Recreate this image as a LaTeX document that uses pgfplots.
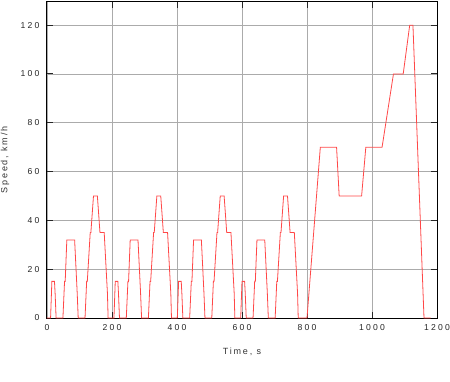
\documentclass[border=0pt]{standalone}
\usepackage{fontspec}
\setmainfont{Liberation Sans}[LetterSpace=20]
\newfontfamily\tickfont{Liberation Sans}[LetterSpace=26]
\usepackage{pgfplots}
\pgfplotsset{compat=1.18}
\definecolor{cyc}{HTML}{FF4848}
\begin{document}
\begin{tikzpicture}
\begin{axis}[
  scale only axis, width=390pt, height=316pt,
  xmin=0, xmax=1200, ymin=0, ymax=129.5,
  xtick={0,200,...,1200}, ytick={0,20,...,120},
  grid=major, major grid style={color=black!33, line width=0.9pt},
  tick align=inside, major tick length=6pt,
  tick style={black!85, line width=1pt},
  axis line style={black, line width=1pt},
  /pgf/number format/assume math mode=true,
  /pgf/number format/1000 sep={},
  ticklabel style={font=\tickfont\fontsize{8.6}{10}\selectfont, text=black!85},
  xticklabel style={yshift=-3pt},
  yticklabel style={xshift=-4pt},
  label style={font=\fontsize{9}{11}\selectfont, text=black!80},
  xlabel={Time, s}, ylabel={Speed, km/h},
  xlabel style={at={(axis description cs:0.5,-0.1076)}, anchor=center},
  ylabel style={at={(axis description cs:-0.1077,0.5)}, anchor=center},
]
\addplot[cyc, line width=0.8pt] coordinates {
(0,0)(11,0)(15,15)(23,15)(25,10)(28,0)(49,0)(54,15)(56,15)(61,32)(85,32)(93,10)(96,0)
(117,0)(122,15)(124,15)(133,35)(135,35)(143,50)(155,50)(163,35)(176,35)(186,10)(188,0)(195,0)
(206,0)(210,15)(218,15)(220,10)(223,0)(244,0)(249,15)(251,15)(256,32)(280,32)(288,10)(291,0)
(312,0)(317,15)(319,15)(328,35)(330,35)(338,50)(350,50)(358,35)(371,35)(381,10)(383,0)(390,0)
(401,0)(405,15)(413,15)(415,10)(418,0)(439,0)(444,15)(446,15)(451,32)(475,32)(483,10)(486,0)
(507,0)(512,15)(514,15)(523,35)(525,35)(533,50)(545,50)(553,35)(566,35)(576,10)(578,0)(585,0)
(596,0)(600,15)(608,15)(610,10)(613,0)(634,0)(639,15)(641,15)(646,32)(670,32)(678,10)(681,0)
(702,0)(707,15)(709,15)(718,35)(720,35)(728,50)(740,50)(748,35)(761,35)(771,10)(773,0)(780,0)
(800,0)(841,70)(891,70)(899,50)(968,50)(981,70)(1031,70)(1066,100)(1096,100)(1116,120)(1126,120)(1160,0)(1180,0)
};
\end{axis}
\pgfresetboundingbox
\path[use as bounding box] ([xshift=-47pt,yshift=-63pt]current axis.south west) rectangle ([xshift=13pt,yshift=2pt]current axis.north east);
\end{tikzpicture}
\end{document}
